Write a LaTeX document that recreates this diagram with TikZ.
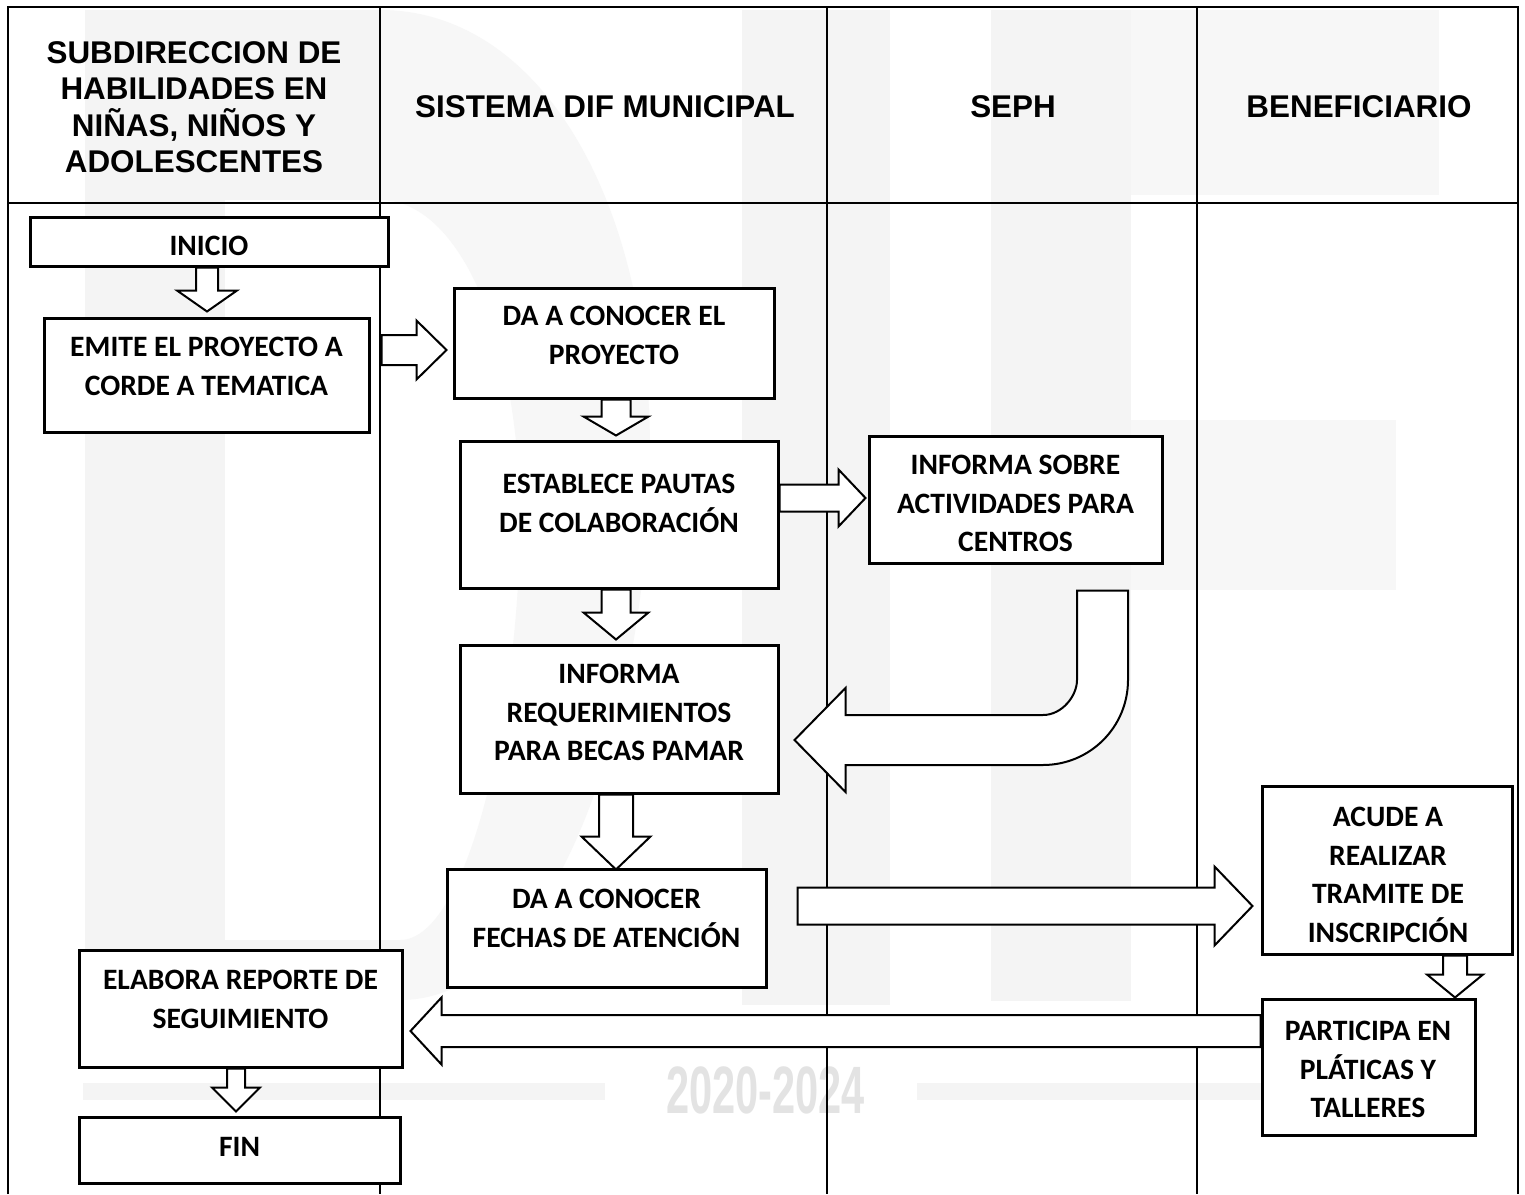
\documentclass[tikz,border=0pt]{standalone}
\usepackage{fontspec}
\usepackage{graphicx}
\setmainfont{Liberation Sans}
\newfontfamily\calib{Carlito}
\usetikzlibrary{calc,fit}
% vertical block arrow: #1 start, #2 tip, #3 shaft half width, #4 head half width, #5 head length
\newcommand\varrow[5]{%
  \draw[barrow] ($#1+(-#3,0)$) -- ($#2+(-#3,-#5)$) -- ($#2+(-#4,-#5)$) -- #2
    -- ($#2+(#4,-#5)$) -- ($#2+(#3,-#5)$) -- ($#1+(#3,0)$) -- cycle;}
% horizontal block arrow: #5 signed head length (positive = to the right)
\newcommand\harrow[5]{%
  \draw[barrow] ($#1+(0,-#3)$) -- ($#2+({-(#5)},-#3)$) -- ($#2+({-(#5)},-#4)$) -- #2
    -- ($#2+({-(#5)},#4)$) -- ($#2+({-(#5)},#3)$) -- ($#1+(0,#3)$) -- cycle;}
\begin{document}
\begin{tikzpicture}[x=0.5pt,y=-0.5pt,
  box/.style={draw, line width=1.5pt, fill=white, inner sep=0pt},
  btxt/.style={align=center, anchor=north, inner sep=0pt,
    font=\calib\bfseries\fontsize{14.8}{19.35}\selectfont},
  htxt/.style={align=center, inner sep=0pt,
    font=\bfseries\fontsize{15.7}{18.1}\selectfont},
  barrow/.style={draw, line width=1pt, fill=white, line join=miter},
  tline/.style={line width=1.3pt},
  cline/.style={line width=1pt},
  wm/.style={fill=gray!9, draw=none},
  wml/.style={fill=gray!6, draw=none},
  wmtxt/.style={anchor=base, inner sep=0pt, text=gray!22,
    font=\bfseries\fontsize{33.5}{36}\selectfont}]
\useasboundingbox (0,0) rectangle (1525,1194);
\fill[white] (0,0) rectangle (1525,1194);

% ---- watermark (light background logo) ----
\fill[wm] (85,10) rectangle (225,1000);
\fill[wm] (225,10) rectangle (380,200);
\fill[wm] (225,940) rectangle (400,1000);
\fill[wml] (380,10) .. controls (540,10) and (650,200) .. (650,450)
  .. controls (650,700) and (560,1000) .. (400,1000) -- (400,940)
  .. controls (470,940) and (520,700) .. (520,520)
  .. controls (520,340) and (460,200) .. (380,200) -- cycle;
\fill[wm] (742,10) rectangle (890,1005);
\fill[wm] (991,10) rectangle (1131,1001);
\fill[wml] (1131,10) rectangle (1439,195);
\fill[wml] (1131,420) rectangle (1396,590);
\fill[wm] (83,1083) rectangle (605,1100);
\fill[wm] (917,1083) rectangle (1300,1100);
\node[wmtxt] (wmyear) at (765.5,1113) {\scalebox{0.62}[1]{2020-2024}};

% ---- table ----
\draw[tline] (8,1194) -- (8,7) -- (1518,7) -- (1518,1194);
\draw[tline] (8,203) -- (1518,203);
\draw[cline] (380,7) -- (380,1194);
\draw[cline] (827,7) -- (827,1194);
\draw[cline] (1197,7) -- (1197,1194);

% ---- headers ----
\node[htxt, anchor=north] (h1) at (194,38) {\strut SUBDIRECCION DE\\HABILIDADES EN\\NIÑAS, NIÑOS Y\\ADOLESCENTES};
\node[htxt, anchor=base] (h2) at (605,117) {SISTEMA DIF MUNICIPAL};
\node[htxt, anchor=base] (h3) at (1013,117) {SEPH};
\node[htxt, anchor=base] (h4) at (1359,117) {BENEFICIARIO};

% ---- boxes ----
\node[box, fit={(30,217)(388,266)}] (inicio) {};
\node[box, fit={(44,318)(369,432)}] (emite) {};
\node[box, fit={(454,288)(774,398)}] (dacon) {};
\node[box, fit={(460,441)(778,588)}] (estab) {};
\node[box, fit={(869,436)(1162,563)}] (infsob) {};
\node[box, fit={(460,645)(778,793)}] (infreq) {};
\node[box, fit={(447,869)(766,987)}] (fechas) {};
\node[box, fit={(1262,786)(1512,954)}] (acude) {};
\node[box, fit={(1262,999)(1475,1135)}] (participa) {};
\node[box, fit={(79,950)(402,1067)}] (elabora) {};
\node[box, fit={(79,1117)(400,1183)}] (fin) {};

\node[btxt] (inicioT) at (209,228) {\strut INICIO};
\node[btxt] (emiteT) at (206.5,329) {\strut EMITE EL PROYECTO A\\CORDE A TEMATICA};
\node[btxt] (daconT) at (614,298) {\strut DA A CONOCER EL\\PROYECTO};
\node[btxt] (estabT) at (619,466) {\strut ESTABLECE PAUTAS\\DE COLABORACIÓN};
\node[btxt] (infsobT) at (1015.5,447) {\strut INFORMA SOBRE\\ACTIVIDADES PARA\\CENTROS};
\node[btxt] (infreqT) at (619,656) {\strut INFORMA\\REQUERIMIENTOS\\PARA BECAS PAMAR};
\node[btxt] (fechasT) at (606.5,881) {\strut DA A CONOCER\\FECHAS DE ATENCIÓN};
\node[btxt] (acudeT) at (1388,799) {\strut ACUDE A\\REALIZAR\\TRAMITE DE\\INSCRIPCIÓN};
\node[btxt] (participaT) at (1368,1013) {\strut PARTICIPA EN\\PLÁTICAS Y\\TALLERES};
\node[btxt] (elaboraT) at (240.5,962) {\strut ELABORA REPORTE DE\\SEGUIMIENTO};
\node[btxt] (finT) at (239.5,1129) {\strut FIN};

% ---- arrow end points ----
\coordinate (s1) at (207,0 |- inicio.south);
\coordinate (t1) at ($(207,0 |- emite.north)+(0,-5)$);
\coordinate (s2) at ($(emite.east |- 0,350)+(11,0)$);
\coordinate (t2) at ($(dacon.west |- 0,350)+(-6,0)$);
\coordinate (s3) at (616,0 |- dacon.south);
\coordinate (t3) at ($(616,0 |- estab.north)+(0,-4)$);
\coordinate (s4) at (estab.east |- 0,498);
\coordinate (t4) at ($(infsob.west |- 0,498)+(-2,0)$);
\coordinate (s5) at (616,0 |- estab.south);
\coordinate (t5) at ($(616,0 |- infreq.north)+(0,-4)$);
\coordinate (u1) at ($(1102.5,0 |- infsob.south)+(0,26)$);
\coordinate (u2) at ($(infreq.east |- 0,740)+(15,0)$);
\coordinate (s7) at (616,0 |- infreq.south);
\coordinate (t7) at ($(616,0 |- fechas.north)+(0,2)$);
\coordinate (s8) at ($(fechas.east |- 0,906)+(30,0)$);
\coordinate (t8) at ($(acude.west |- 0,906)+(-8,0)$);
\coordinate (s9) at (1455,0 |- acude.south);
\coordinate (t9) at (1455,0 |- participa.north);
\coordinate (s10) at (participa.west |- 0,1031);
\coordinate (t10) at ($(elabora.east |- 0,1031)+(7,0)$);
\coordinate (s11) at (236,0 |- elabora.south);
\coordinate (t11) at ($(236,0 |- fin.north)+(0,-4)$);

% ---- block arrows ----
\varrow{(s1)}{(t1)}{11}{30}{21}
\harrow{(s2)}{(t2)}{15}{29.5}{30}
\varrow{(s3)}{(t3)}{14.5}{32.5}{19}
\harrow{(s4)}{(t4)}{13.5}{28.5}{27}
\varrow{(s5)}{(t5)}{14.5}{32.5}{27}
\varrow{(s7)}{(t7)}{17}{34.5}{33}
\harrow{(s8)}{(t8)}{18.5}{39.5}{38}
\varrow{(s9)}{(t9)}{12}{28}{23}
\harrow{(s10)}{(t10)}{16}{33.5}{-31}
\varrow{(s11)}{(t11)}{9}{24}{24}
% U-turn arrow from infsob to infreq
\draw[barrow] ($(u1)+(25.5,0)$) -- ($(u1|-u2)+(25.5,-60)$)
  .. controls ($(u1|-u2)+(25.5,-13)$) and ($(u1|-u2)+(-12.5,25)$) .. ($(u1|-u2)+(-59.5,25)$)
  -- ($(u2)+(51,25)$) -- ($(u2)+(51,52)$) -- (u2) -- ($(u2)+(51,-52)$) -- ($(u2)+(51,-25)$)
  -- ($(u1|-u2)+(-59.5,-25)$)
  .. controls ($(u1|-u2)+(-40.5,-25)$) and ($(u1|-u2)+(-25.5,-44)$) .. ($(u1|-u2)+(-25.5,-60)$)
  -- ($(u1)+(-25.5,0)$) -- cycle;
\end{tikzpicture}
\end{document}
